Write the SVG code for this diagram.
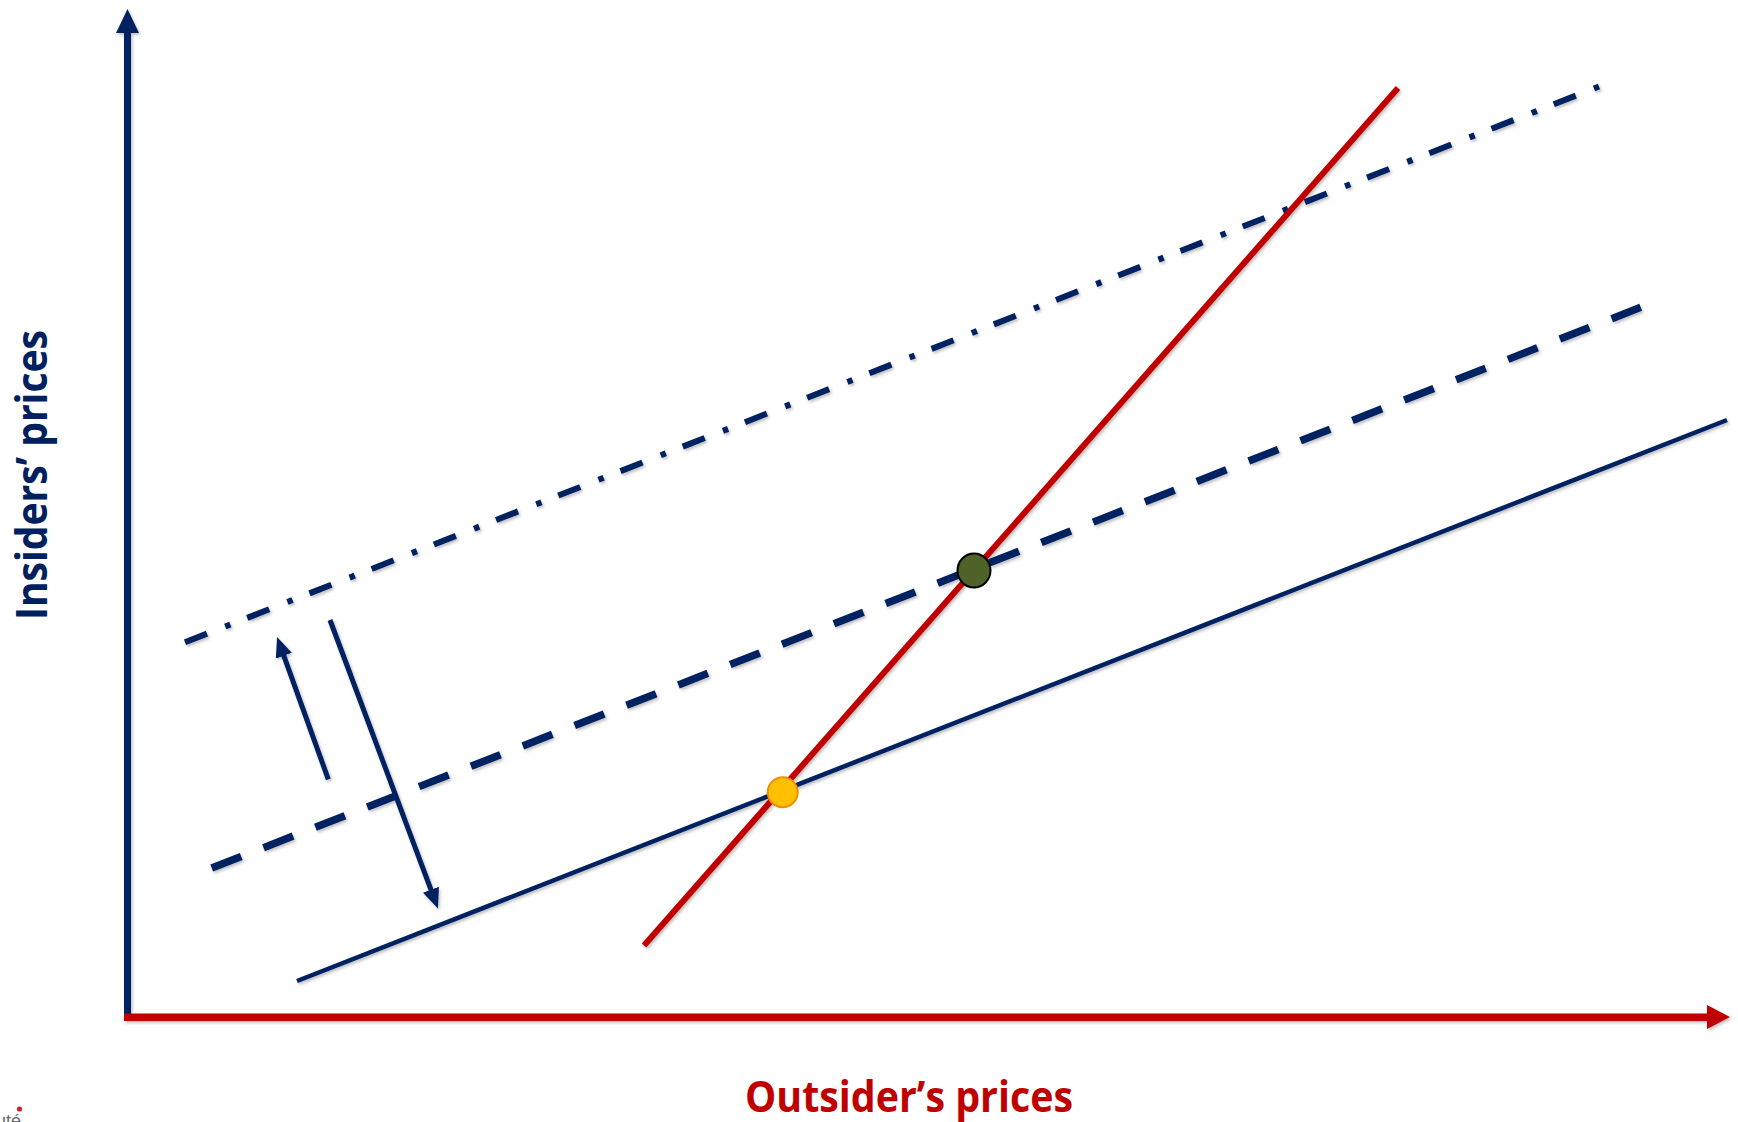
<svg xmlns="http://www.w3.org/2000/svg" width="1738" height="1122" viewBox="0 0 1738 1122">
  <defs>
    <filter id="sh" x="-5%" y="-5%" width="110%" height="110%">
      <feDropShadow dx="1.5" dy="2" stdDeviation="1.5" flood-color="#000" flood-opacity="0.25"/>
    </filter>
    <marker id="ah" markerUnits="userSpaceOnUse" markerWidth="22" markerHeight="18" refX="1" refY="8.5" orient="auto">
      <path d="M0,0 L20,8.5 L0,17 z" fill="#002060"/>
    </marker>
    <style>
      .navy { stroke: #002060; fill: none; }
      .red { stroke: #C00000; fill: none; }
      .lbl { font-family: "Open Sans", "Liberation Sans", sans-serif; font-weight: bold; }
    </style>
  </defs>
  <rect width="1738" height="1122" fill="#FFFFFF"/>

  <g id="connectors" filter="url(#sh)">
    <!-- curves -->
    <line id="dashdot-line" class="navy" x1="185" y1="642.3" x2="1599" y2="86.5" stroke-width="6" stroke-dasharray="23.6 19.6 5.5 18.15"/>
    <line id="dashed-line" class="navy" x1="211.7" y1="868" x2="1640.7" y2="307.3" stroke-width="7.5" stroke-dasharray="31.7 24"/>
    <line id="solid-line" class="navy" x1="297" y1="981" x2="1727" y2="420" stroke-width="4.5"/>
    <line id="red-line" class="red" x1="644" y1="945.5" x2="1398" y2="88" stroke-width="6"/>
    <!-- shift arrows -->
    <line id="up-arrow" class="navy" x1="328.3" y1="779.3" x2="283.5" y2="654.8" stroke-width="5" marker-end="url(#ah)"/>
    <line id="down-arrow" class="navy" x1="330" y1="620" x2="431.3" y2="890.6" stroke-width="5" marker-end="url(#ah)"/>
  </g>

  <g id="axes" filter="url(#sh)">
    <g id="y-axis">
      <rect x="124" y="31" width="7" height="990" fill="#002060"/>
      <polygon points="127.5,9 116,33 139,33" fill="#002060"/>
    </g>
    <g id="x-axis">
      <rect x="124" y="1013.5" width="1585" height="7.5" fill="#C00000"/>
      <polygon points="1730,1017 1707,1005 1707,1029" fill="#C00000"/>
    </g>
  </g>

  <g id="equilibrium-initial">
    <circle cx="782.7" cy="792.2" r="15" fill="#FFC000" stroke="#F28C00" stroke-width="2"/>
  </g>
  <g id="equilibrium-new">
    <ellipse cx="974" cy="570.5" rx="16.5" ry="17" fill="#4F6228" stroke="#000000" stroke-width="2"/>
  </g>

  <g id="label-y">
    <text class="lbl" transform="translate(47,475) rotate(-90)" text-anchor="middle" font-size="43" fill="#002060" textLength="290" lengthAdjust="spacingAndGlyphs">Insiders’ prices</text>
  </g>
  <g id="label-x">
    <text class="lbl" x="909" y="1112" text-anchor="middle" font-size="43" fill="#C00000" textLength="328" lengthAdjust="spacingAndGlyphs">Outsider’s prices</text>
  </g>

  <g id="logo-fragment">
    <text x="-4" y="1127" font-family="Liberation Sans, sans-serif" font-size="18" fill="#6b6b6b">uté</text>
    <circle cx="19.5" cy="1109" r="2.6" fill="#D0202E"/>
  </g>
</svg>
